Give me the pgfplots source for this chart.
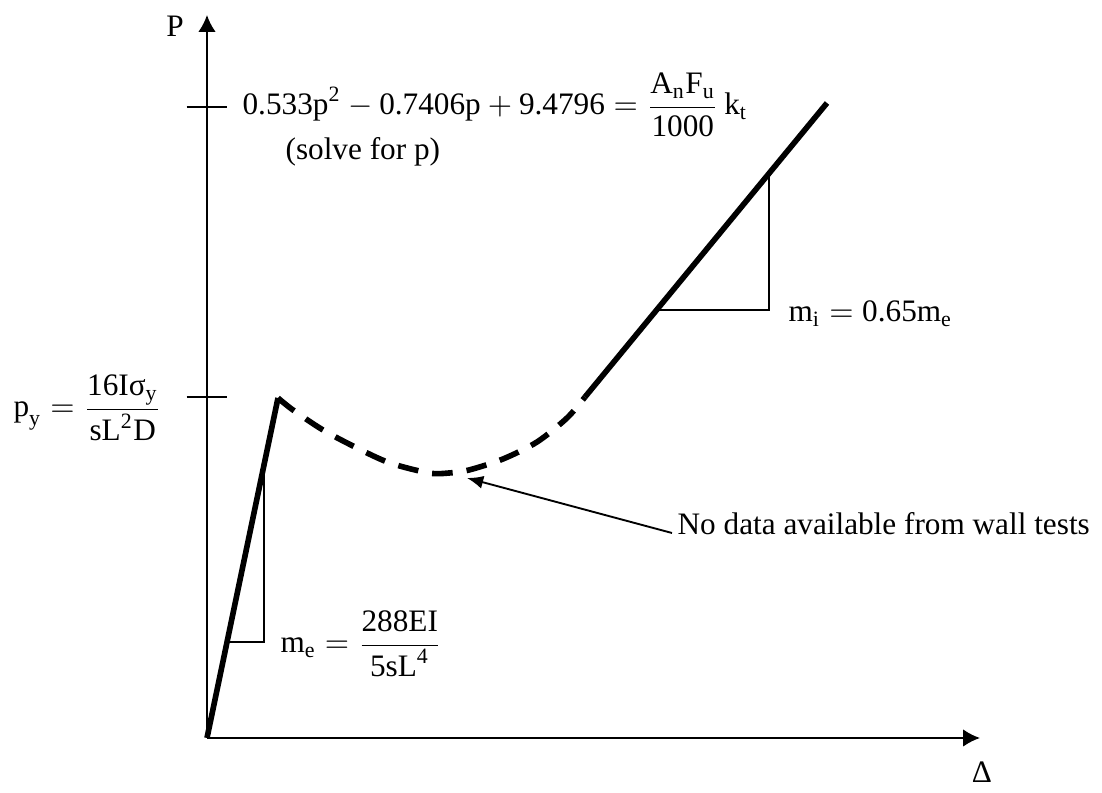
\documentclass[border=0pt]{standalone}
\usepackage{fontspec}
\setmainfont{Liberation Serif}
\usepackage{amsmath}
\usepackage{pgfplots}
\pgfplotsset{compat=1.18}
\usetikzlibrary{arrows.meta}
\newcommand{\tx}[1]{\text{#1}}

\begin{document}
\begin{tikzpicture}
\begin{axis}[
  x=0.32pt, y=0.32pt,
  xmin=0, xmax=773, ymin=0, ymax=723,
  axis lines=middle,
  axis line style={line width=0.65pt, -{Latex[length=5.4pt,width=5.6pt]}},
  xtick=\empty,
  ytick={341,631},
  yticklabels={,},
  tick align=center,
  major tick length=13pt,
  tick style={line width=0.6pt, black},
  clip=false,
]
% page extent
\path (axis cs:-207,-45) rectangle (axis cs:895,738);

% elastic branch
\addplot[line width=1.8pt] coordinates {(0,0) (71,340)};
% post-yield region without test data
\addplot[line width=1.8pt, dash pattern=on 6.6pt off 4.5pt, smooth] coordinates {
  (71,340) (86,328) (116,308) (150,290) (183,275) (222,265)
  (242,265) (262,268) (296,279) (330,296) (360,320) (378,341)};
% inelastic branch
\addplot[line width=1.8pt] coordinates {(378,341) (620,635)};

% slope triangles
\addplot[line width=0.55pt] coordinates {(20,96) (57,96) (57,273)};
\addplot[line width=0.55pt] coordinates {(450,428) (562,428) (562,565)};

% leader arrow
\addplot[line width=0.6pt, -{Latex[length=5.2pt,width=4.2pt]}] coordinates {(465,205) (260,260)};

% labels
\node[anchor=center] at (axis cs:-32,712) {P};
\node[anchor=center] at (axis cs:775,-34) {Δ};
\node[anchor=base west, inner sep=0pt] at (axis cs:35,623)
  {$\tx{0.533p}^{\tx{2}} - \tx{0.7406p} + \tx{9.4796} = \dfrac{\tx{A}_{\tx{n}}\tx{F}_{\tx{u}}}{\tx{1000}}\,\tx{k}_{\tx{t}}$};
\node[anchor=base west, inner sep=0pt] at (axis cs:78,578) {(solve for p)};
\node[anchor=base west, inner sep=0pt] at (axis cs:-194,321)
  {$\tx{p}_{\tx{y}} = \dfrac{\tx{16Iσ}_{\tx{y}}}{\tx{sL}^{\tx{2}}\tx{D}}$};
\node[anchor=base west, inner sep=0pt] at (axis cs:73,85)
  {$\tx{m}_{\tx{e}} = \dfrac{\tx{288EI}}{\tx{5sL}^{\tx{4}}}$};
\node[anchor=base west, inner sep=0pt] at (axis cs:581,416)
  {$\tx{m}_{\tx{i}} = \tx{0.65m}_{\tx{e}}$};
\node[anchor=base west, inner sep=0pt] at (axis cs:470,203) {No data available from wall tests};
\end{axis}
\end{tikzpicture}
\end{document}
